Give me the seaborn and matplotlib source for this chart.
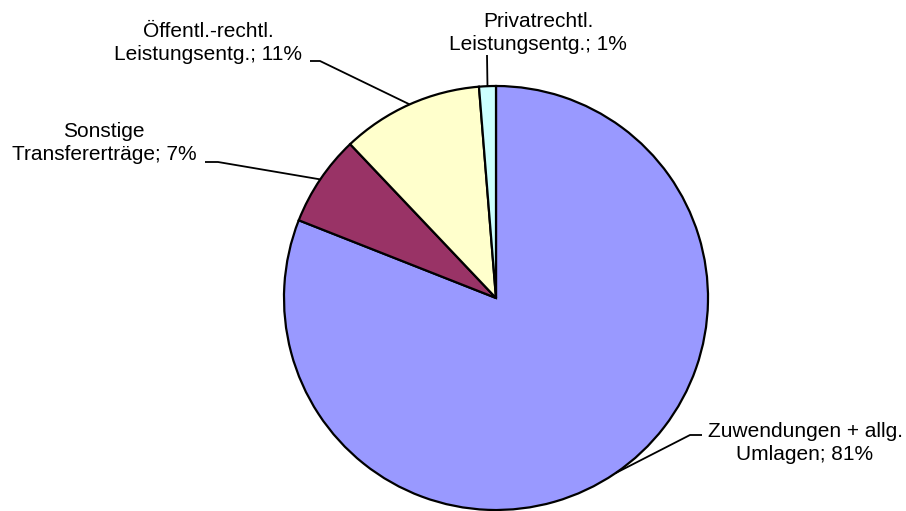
import numpy as np
import matplotlib
matplotlib.use("Agg")
import matplotlib.pyplot as plt
import seaborn as sns

# ---- data ----
categories = ["Zuwendungen + allg.\nUmlagen", "Sonstige\nTransfererträge",
              "Öffentl.-rechtl.\nLeistungsentg.", "Privatrechtl.\nLeistungsentg."]
values = [81.0, 6.95, 10.8, 1.28]
colors = ["#9999FF", "#993366", "#FFFFCC", "#CCFFFF"]

sns.set_theme(style="white")
plt.rcParams['font.family'] = ['Liberation Sans', 'DejaVu Sans']

W, H = 906, 511
fig = plt.figure(figsize=(W / 100, H / 100), dpi=100)
cx, cy, R = 496, 298, 212  # pixel layout of pie
ax = fig.add_axes([(cx - R) / W, (H - cy - R) / H, 2 * R / W, 2 * R / H])

wedges, _ = ax.pie(values, colors=colors, startangle=90, counterclock=False,
                   radius=1.0, wedgeprops=dict(edgecolor='black', linewidth=1.6),
                   normalize=True)
for w in wedges:
    w.set_clip_on(False)
ax.set_xlim(-1, 1)
ax.set_ylim(-1, 1)
ax.set_aspect('equal')
ax.axis('off')

def px(x, y):
    return ((x - cx) / R, (cy - y) / R)

# label layout: text center (px), elbow point (px), horizontal tail end (px or None)
layout = [
    ((805, 443), (690, 435), (702, 435)),
    ((104, 143), (218, 162), (205, 162)),
    ((208, 43), (320, 61), (310, 61)),
    ((538, 33), (487, 55), None),
]

total = sum(values)
for w, cat, v, (tc, elbow, tail) in zip(wedges, categories, values, layout):
    ang = np.deg2rad((w.theta1 + w.theta2) / 2)
    ex, ey = np.cos(ang), np.sin(ang)
    bx, by = px(*elbow)
    xs = [ex, bx]
    ys = [ey, by]
    if tail is not None:
        tx_, ty_ = px(*tail)
        xs.append(tx_)
        ys.append(ty_)
    ax.plot(xs, ys, color='black', lw=1.3, clip_on=False, solid_capstyle='butt')
    pct = round(v / total * 100)
    lx, ly = px(*tc)
    ax.text(lx, ly, f"{cat}; {pct}%", ha='center', va='center', fontsize=15,
            multialignment='center', linespacing=1.22, color='black')

fig.savefig("out.png", dpi=100, facecolor='white')
